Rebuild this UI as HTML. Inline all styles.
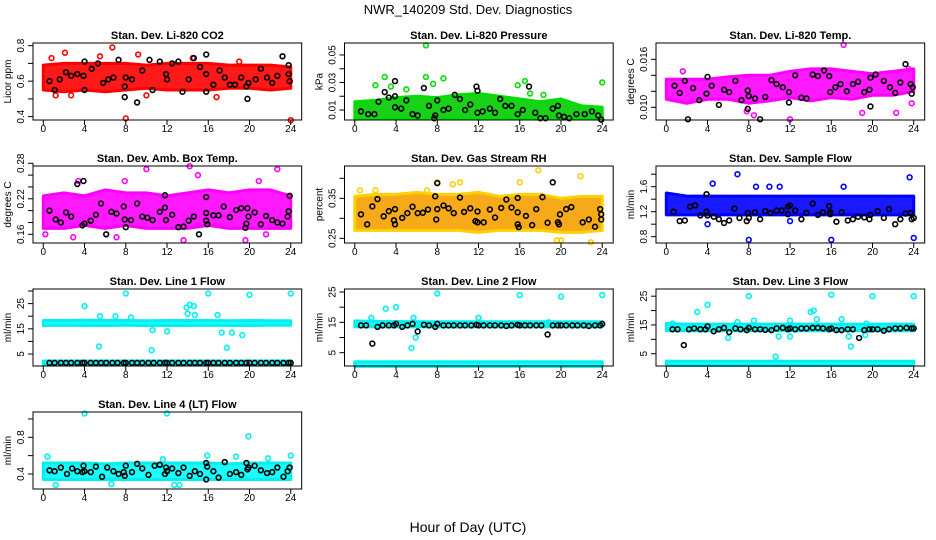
<!DOCTYPE html>
<html><head><meta charset="utf-8">
<style>
html,body{margin:0;padding:0;background:#fff;}
svg{display:block;font-family:"Liberation Sans",sans-serif;}
</style></head>
<body>
<svg id="chart" width="936" height="540" viewBox="0 0 936 540" xmlns="http://www.w3.org/2000/svg">
<text x="468" y="14" text-anchor="middle" font-size="13">NWR_140209  Std. Dev. Diagnostics</text>
<text x="468" y="532" text-anchor="middle" font-size="14">Hour of Day (UTC)</text>
</svg>
<script>
const NS="http://www.w3.org/2000/svg";
const svg=document.getElementById('chart');
const xTicks=[0,4,8,12,16,20,24];
const bandHours=[0,2,4,6,8,10,12,14,16,18,20,22,24];

// ---- Panel 1: CO2
const p1Lo=[0.55,0.54,0.55,0.54,0.55,0.56,0.55,0.55,0.55,0.56,0.56,0.55,0.56];
const p1Hi=[0.69,0.70,0.70,0.70,0.70,0.69,0.70,0.70,0.70,0.69,0.69,0.69,0.68];
const p1Out=[[0.8,0.73],[2.1,0.76],[6.7,0.79],[8,0.39],[9.2,0.75],[14.5,0.73],[24,0.38],[10,0.52],[1.2,0.52],[2.7,0.52],[16.8,0.51],[19,0.71],[5.5,0.74]];
const p1Blk=[[0.6,0.60],[1.1,0.55],[1.6,0.61],[2.2,0.65],[2.7,0.63],[3.3,0.64],[3.9,0.63],[4,0.71],[4,0.55],[4.7,0.67],[5.3,0.70],[5.8,0.59],[6.3,0.61],[6.8,0.62],[7.3,0.72],[7.9,0.57],[7.9,0.51],[8,0.62],[8.6,0.61],[9.1,0.48],[9.6,0.66],[10.3,0.72],[10.6,0.55],[11.3,0.71],[11.9,0.64],[12,0.61],[12.5,0.70],[13.1,0.71],[13.5,0.54],[14.1,0.61],[14.6,0.73],[15.2,0.68],[15.8,0.75],[15.8,0.64],[15.8,0.54],[16.5,0.58],[17.1,0.66],[17.6,0.62],[18.1,0.58],[18.6,0.58],[19.2,0.62],[19.7,0.57],[19.8,0.50],[19.9,0.59],[20.6,0.61],[21.1,0.67],[21.7,0.62],[22.2,0.59],[22.7,0.63],[23.2,0.74],[23.8,0.69],[23.8,0.64],[23.9,0.60]];
// ---- Panel 2: Pressure
const p2Lo=[0.004,0.004,0.004,0.004,0.004,0.004,0.004,0.004,0.004,0.004,0.004,0.004,0.004];
const p2Hi=[0.016,0.017,0.019,0.020,0.019,0.021,0.022,0.020,0.018,0.016,0.018,0.013,0.012];
const p2Out=[[6.9,0.057],[6.9,0.034],[2.9,0.034],[8.6,0.033],[2,0.028],[3.5,0.027],[16.5,0.031],[24,0.030],[7.6,0.029],[15.8,0.028],[5,0.025],[17,0.022],[18.3,0.021]];
const p2Blk=[[0.6,0.009],[1.3,0.007],[1.9,0.007],[2.3,0.016],[2.9,0.023],[3.3,0.019],[3.9,0.031],[3.9,0.020],[3.9,0.012],[4.5,0.011],[5,0.017],[5.6,0.007],[6.1,0.006],[6.7,0.026],[7.2,0.013],[7.7,0.004],[7.8,0.006],[8,0.017],[8.6,0.010],[9.1,0.011],[9.7,0.021],[10.2,0.018],[10.7,0.010],[11.2,0.014],[11.8,0.027],[11.9,0.024],[11.9,0.008],[12.4,0.009],[13.1,0.011],[13.6,0.008],[14.1,0.018],[14.6,0.013],[15.2,0.013],[15.8,0.007],[16.3,0.010],[16.9,0.027],[17.5,0.008],[18,0.004],[18.5,0.004],[19.2,0.011],[19.7,0.013],[19.8,0.006],[20.3,0.005],[20.8,0.004],[21.5,0.007],[22.3,0.007],[23,0.009],[23.6,0.006],[23.9,0.003]];
// ---- Panel 3: Li-820 Temp
const p3Lo=[0.0110,0.0105,0.0110,0.0110,0.0105,0.0108,0.0112,0.0108,0.0112,0.0110,0.0115,0.0115,0.0120];
const p3Hi=[0.0135,0.0135,0.0135,0.0138,0.0140,0.0140,0.0145,0.0148,0.0148,0.0145,0.0142,0.0145,0.0148];
const p3Out=[[1.6,0.0145],[17.2,0.0178],[12,0.0085],[8.5,0.009],[7.8,0.0095],[19,0.0093],[22.3,0.0093],[23.8,0.0105],[23.5,0.0148]];
const p3Blk=[[0.8,0.0127],[1.3,0.0118],[1.8,0.0133],[2.1,0.0085],[2.6,0.0124],[3.2,0.0109],[3.9,0.0117],[4,0.0138],[4.4,0.0127],[5.1,0.0103],[5.6,0.0122],[6.1,0.0119],[6.7,0.0133],[7.3,0.0109],[7.9,0.0098],[7.9,0.0121],[8,0.0114],[8.6,0.0111],[9.1,0.0085],[9.6,0.0113],[10.2,0.0134],[10.7,0.0129],[11.3,0.0125],[11.9,0.0119],[11.9,0.0106],[12.5,0.0140],[13.1,0.0112],[13.6,0.0111],[14.2,0.0141],[14.7,0.0139],[15.3,0.0146],[15.8,0.0139],[15.9,0.0119],[16.4,0.0125],[16.9,0.0129],[17.5,0.0120],[18.1,0.0129],[18.6,0.0132],[19.2,0.0119],[19.7,0.0122],[19.8,0.0101],[19.8,0.0137],[20.3,0.0141],[21.1,0.0133],[21.7,0.0125],[22.2,0.0118],[22.7,0.0131],[23.2,0.0154],[23.7,0.0129],[23.8,0.0117],[23.9,0.0125]];
// ---- Panel 4: Amb Box Temp
const p4Lo=[0.17,0.17,0.175,0.17,0.175,0.17,0.17,0.17,0.175,0.17,0.17,0.17,0.17];
const p4Hi=[0.225,0.23,0.225,0.235,0.23,0.23,0.225,0.23,0.235,0.23,0.235,0.235,0.225];
const p4Out=[[10,0.27],[14.2,0.275],[22.7,0.27],[3.4,0.25],[15,0.26],[0.2,0.16],[2.9,0.155],[7.1,0.155],[13.6,0.15],[19.6,0.15],[21.6,0.16],[20.9,0.25],[7.9,0.25]];
const p4Blk=[[0.6,0.20],[1.2,0.185],[1.7,0.18],[2.2,0.197],[2.7,0.19],[3.3,0.245],[3.8,0.175],[3.9,0.25],[4.0,0.178],[4.6,0.183],[5.1,0.193],[5.6,0.212],[6.1,0.16],[6.6,0.198],[7.1,0.195],[7.8,0.207],[7.9,0.185],[8,0.172],[8.5,0.184],[9.1,0.212],[9.6,0.19],[10.1,0.188],[10.6,0.184],[11.3,0.198],[11.8,0.205],[11.8,0.226],[11.9,0.184],[12.5,0.193],[13.1,0.172],[13.6,0.173],[14.1,0.183],[14.6,0.19],[15.1,0.16],[15.8,0.223],[15.8,0.196],[15.8,0.183],[15.9,0.177],[16.5,0.192],[17,0.192],[17.5,0.207],[18.1,0.189],[18.7,0.201],[19.2,0.204],[19.6,0.171],[19.7,0.178],[19.8,0.204],[19.9,0.19],[20.5,0.197],[21.1,0.177],[21.6,0.191],[22.2,0.184],[22.7,0.18],[23.2,0.178],[23.7,0.19],[23.8,0.199],[23.9,0.225]];
// ---- Panel 5: Gas Stream RH
const p5Lo=[0.27,0.27,0.27,0.27,0.27,0.27,0.265,0.27,0.27,0.27,0.265,0.265,0.27];
const p5Hi=[0.355,0.36,0.36,0.365,0.36,0.36,0.365,0.355,0.36,0.36,0.35,0.355,0.355];
const p5Out=[[17.8,0.42],[21.9,0.405],[8,0.39],[10.2,0.39],[9.5,0.385],[16,0.39],[19.6,0.245],[20,0.245],[22.9,0.24],[0.5,0.37],[2,0.37],[7,0.37]];
const p5Blk=[[0.6,0.31],[1.2,0.285],[1.7,0.33],[2.2,0.348],[2.8,0.305],[3.3,0.318],[3.8,0.295],[3.9,0.285],[3.9,0.323],[4.6,0.301],[5.1,0.313],[5.6,0.329],[6.1,0.313],[6.6,0.314],[7.1,0.322],[7.8,0.355],[7.9,0.297],[8,0.388],[8,0.323],[8.6,0.332],[9.1,0.325],[9.6,0.313],[10.2,0.352],[10.6,0.316],[11.2,0.325],[11.7,0.293],[11.9,0.29],[11.9,0.317],[12.5,0.29],[13.1,0.322],[13.6,0.302],[14.2,0.326],[14.7,0.347],[15.2,0.327],[15.8,0.351],[15.8,0.315],[15.8,0.285],[15.9,0.278],[16.6,0.306],[17.2,0.283],[17.6,0.323],[18.2,0.353],[18.7,0.289],[19.2,0.39],[19.7,0.29],[19.8,0.285],[19.9,0.31],[20.5,0.323],[21,0.328],[22.1,0.29],[22.7,0.297],[23.3,0.279],[23.8,0.323],[23.9,0.297],[23.9,0.31]];
// ---- Panel 6: Sample Flow
const p6Lo=[1.15,1.15,1.15,1.15,1.15,1.15,1.15,1.15,1.15,1.15,1.15,1.15,1.15];
const p6Hi=[1.5,1.45,1.45,1.45,1.45,1.45,1.45,1.45,1.45,1.45,1.45,1.45,1.45];
const p6Out=[[6.9,1.8],[23.6,1.75],[4.5,1.65],[8,0.75],[16,0.75],[24,0.78],[4,1.0],[12,1.05],[8.7,1.6],[10,1.6],[11,1.6],[17.2,1.6]];
const p6Blk=[[0.7,1.2],[1.3,1.05],[1.8,1.06],[2.3,1.28],[2.8,1.3],[3.3,1.14],[3.9,1.48],[3.9,1.2],[4,1.14],[4.6,1.12],[5.1,1.08],[5.6,1.02],[6.1,1.06],[6.6,1.25],[7.1,1.1],[7.8,1.05],[7.9,1.18],[8,1.1],[8.6,1.19],[9.1,1.08],[9.6,1.21],[10.1,1.18],[10.7,1.22],[11.2,1.22],[11.8,1.28],[11.8,1.16],[12,1.3],[12.5,1.22],[13.1,1.08],[13.6,1.18],[14.2,1.33],[14.7,1.15],[15.2,1.19],[15.8,1.29],[15.9,1.16],[15.9,1.19],[16.5,1.04],[17,1.19],[17.6,1.06],[18.1,1.08],[18.6,1.12],[19.2,1.11],[19.7,1.08],[19.8,1.15],[20.5,1.21],[21.1,1.1],[21.6,1.24],[22.2,1.0],[22.7,1.08],[23.2,1.17],[23.7,1.18],[23.8,1.08],[24,1.1]];
// ---- Line flows: black hourly series
const lineBlkH=[0.6,1.1,1.7,2.2,2.7,3.3,3.8,4.0,4.6,5.1,5.6,6.1,6.7,7.2,7.8,8.0,8.6,9.1,9.6,10.2,10.7,11.3,11.8,12.0,12.5,13.1,13.6,14.2,14.7,15.2,15.8,16.0,16.5,17.0,17.6,18.1,18.7,19.2,19.7,20.0,20.5,21.1,21.6,22.2,22.7,23.3,23.8,24.0];
// ---- Panel 7: Line 1
const p7Lo=[16.3,16.4,16.3,16.3,16.4,16.3,16.3,16.3,16.4,16.3,16.3,16.4,16.4];
const p7Hi=[18.3,18.3,18.4,18.3,18.3,18.2,18.3,18.3,18.3,18.2,18.3,18.2,18.2];
const p7Lo2=[0.9,0.9,0.9,0.9,0.9,0.9,0.9,0.9,0.9,0.9,0.9,0.9,0.9];
const p7Hi2=[2.2,2.2,2.2,2.2,2.2,2.2,2.2,2.2,2.2,2.2,2.2,2.2,2.2];
const p7Out=[[8,29],[16,29],[20,28.5],[24,29],[4,24],[13.9,23.5],[14.2,24.5],[14.6,24],[14,21],[14.7,20.5],[5.5,20],[7,20],[8.5,19.5],[16.9,20.5],[5.4,8],[10.5,6.5],[17.8,7.5],[19.3,12.5],[12,14],[17.3,13.5],[18.3,13.5],[10.6,14.5]];
const p7BlkV=[1.5,1.5,1.5,1.5,1.5,1.5,1.5,1.5,1.5,1.5,1.5,1.5,1.5,1.5,1.5,1.5,1.5,1.5,1.5,1.5,1.5,1.5,1.5,1.5,1.5,1.5,1.5,1.5,1.5,1.5,1.5,1.5,1.5,1.5,1.5,1.5,1.5,1.5,1.5,1.5,1.5,1.5,1.5,1.5,1.5,1.5,1.5,1.5];
// ---- Panel 8: Line 2
const p8Lo=[13.5,13.5,13.5,13.5,13.5,13.5,13.5,13.5,13.5,13.5,13.5,13.5,13.5];
const p8Hi=[15.5,15.3,15.3,15.2,15.2,15.2,15.2,15.2,15.2,15.2,15.2,15.2,15.2];
const p8Lo2=[0.5,0.5,0.5,0.5,0.5,0.5,0.5,0.5,0.5,0.5,0.5,0.5,0.5];
const p8Hi2=[2.0,2.0,2.0,2.0,2.0,2.0,2.0,2.0,2.0,2.0,2.0,2.0,2.0];
const p8Out=[[8,24.5],[16,24],[20,23.5],[24,24],[3,19.5],[4,20],[1.6,16.5],[5.7,16.5],[12,16.5],[5.5,6.5],[5.9,10],[18.8,15]];
const p8BlkV=[14,14,8,13.5,14,14,14,14.5,13.5,14,14.5,12,14.2,14,13.5,14.5,14,14,14,14,14,14,14.2,14,14,14,14,14,13.8,14,14.2,14,14,14,14,14,11,14,14,14,14,14,14,14,13.8,14,14,14.5];
// ---- Panel 9: Line 3
const p9Lo=[13.0,13.0,13.0,13.0,13.0,13.0,13.0,13.0,13.0,13.0,13.0,13.0,13.0];
const p9Hi=[15.5,15.3,15.3,15.3,15.3,15.3,15.3,15.3,15.3,15.3,15.3,15.3,15.3];
const p9Lo2=[0.9,0.9,0.9,0.9,0.9,0.9,0.9,0.9,0.9,0.9,0.9,0.9,0.9];
const p9Hi2=[2.4,2.4,2.4,2.4,2.4,2.4,2.4,2.4,2.4,2.4,2.4,2.4,2.4];
const p9Out=[[8,25],[16,25.5],[20,25],[24,25],[4,22],[3,19.5],[14,19.5],[14.3,20],[14.6,17],[17,17],[8.5,16.5],[12,16.5],[6.9,16],[0.6,15.5],[6,10.5],[10.6,4],[10.9,11],[12,11],[17.7,11],[17.9,7.5],[19.3,11.5],[19.4,15.5]];
const p9BlkV=[13.5,13.5,8,13.5,13.8,13.5,13.5,14.5,12.8,13.5,14,12.5,13.8,13.5,13.2,14,13.5,13.5,13.3,13.2,13.8,14,13.5,13.8,13.5,13.8,13.8,14,14,13.8,13.5,13.8,13.2,13.2,13.5,13.5,10.5,13.2,13.5,13.5,13.5,13,13.5,13.8,13.8,14,13.8,13.8];
// ---- Panel 10: Line 4
const p10Lo=[0.34,0.34,0.34,0.34,0.34,0.34,0.34,0.34,0.34,0.34,0.34,0.34,0.34];
const p10Hi=[0.52,0.52,0.52,0.51,0.52,0.52,0.52,0.52,0.52,0.51,0.52,0.52,0.52];
const p10Out=[[4,1.06],[12,1.06],[19.9,0.81],[0.4,0.59],[15.9,0.6],[18.7,0.59],[24,0.6],[1.2,0.28],[6.6,0.29],[12.7,0.28],[13.2,0.28],[11.6,0.56],[21.8,0.57]];
const p10Blk=[[0.6,0.44],[1.1,0.43],[1.7,0.47],[2.3,0.40],[2.8,0.46],[3.3,0.43],[3.8,0.42],[3.9,0.49],[4,0.43],[4.6,0.42],[5.1,0.48],[5.7,0.37],[6.2,0.47],[6.8,0.43],[7.3,0.40],[7.8,0.42],[7.9,0.38],[8,0.49],[8.6,0.42],[9.1,0.51],[9.6,0.46],[10.2,0.39],[10.8,0.49],[11.3,0.50],[11.8,0.40],[11.9,0.47],[12,0.43],[12.5,0.46],[13.1,0.41],[13.6,0.47],[14.2,0.38],[14.7,0.43],[15.2,0.40],[15.8,0.52],[15.8,0.34],[15.9,0.48],[16.5,0.43],[17,0.36],[17.6,0.53],[18.1,0.40],[18.7,0.42],[19.2,0.39],[19.7,0.52],[19.8,0.45],[19.9,0.47],[20.5,0.49],[21.1,0.44],[21.7,0.41],[22.2,0.42],[22.7,0.47],[23.3,0.37],[23.7,0.43],[23.9,0.47]];

function pairs(h,v){return h.map((x,i)=>[x,v[i]]);}

const panels=[
 {key:'co2',title:'Stan. Dev. Li-820 CO2',ylab:'Licor ppm',row:0,col:0,ymin:0.381,ymax:0.815,ticks:[0.4,0.5,0.6,0.7,0.8],labels:['0.4','','0.6','','0.8'],fill:'#ff0000',stroke:'#ff0000',bands:[[p1Lo,p1Hi]],out:p1Out,blk:p1Blk},
 {key:'pressure',title:'Stan. Dev. Li-820 Pressure',ylab:'kPa',row:0,col:1,ymin:0.00273,ymax:0.0587,ticks:[0.01,0.02,0.03,0.04,0.05],labels:['0.01','','0.03','','0.05'],fill:'#00cc00',stroke:'#00dd00',bands:[[p2Lo,p2Hi]],out:p2Out,blk:p2Blk},
 {key:'li820-temp',title:'Stan. Dev. Li-820 Temp.',ylab:'degrees C',row:0,col:2,ymin:0.00841,ymax:0.01804,ticks:[0.010,0.012,0.014,0.016],labels:['0.010','','','0.016'],fill:'#ff00ff',stroke:'#ff00ff',bands:[[p3Lo,p3Hi]],out:p3Out,blk:p3Blk},
 {key:'amb-box-temp',title:'Stan. Dev. Amb. Box Temp.',ylab:'degrees C',row:1,col:0,ymin:0.1453,ymax:0.2754,ticks:[0.16,0.18,0.20,0.22,0.24,0.26,0.28],labels:['0.16','','','0.22','','','0.28'],fill:'#ff00ff',stroke:'#ff00ff',bands:[[p4Lo,p4Hi]],out:p4Out,blk:p4Blk},
 {key:'gas-stream-rh',title:'Stan. Dev. Gas Stream RH',ylab:'percent',row:1,col:1,ymin:0.2383,ymax:0.4308,ticks:[0.25,0.30,0.35,0.40],labels:['0.25','','0.35',''],fill:'#f5a000',stroke:'#ffd000',bands:[[p5Lo,p5Hi]],out:p5Out,blk:p5Blk},
 {key:'sample-flow',title:'Stan. Dev. Sample Flow',ylab:'ml/min',row:1,col:2,ymin:0.699,ymax:1.931,ticks:[0.8,1.0,1.2,1.4,1.6,1.8],labels:['0.8','','1.2','','1.6',''],fill:'#0000ff',stroke:'#0000ff',bands:[[p6Lo,p6Hi]],out:p6Out,blk:p6Blk},
 {key:'line1-flow',title:'Stan. Dev. Line 1 Flow',ylab:'ml/min',row:2,col:0,ymin:0.24,ymax:30.8,ticks:[5,10,15,20,25,30],labels:['5','','15','','25',''],fill:'#00ffff',stroke:'#00f0f0',bands:[[p7Lo,p7Hi],[p7Lo2,p7Hi2]],out:p7Out,blk:pairs(lineBlkH,p7BlkV)},
 {key:'line2-flow',title:'Stan. Dev. Line 2 Flow',ylab:'ml/min',row:2,col:1,ymin:0.61,ymax:26.0,ticks:[5,10,15,20,25],labels:['5','','15','','25'],fill:'#00ffff',stroke:'#00f0f0',bands:[[p8Lo,p8Hi],[p8Lo2,p8Hi2]],out:p8Out,blk:pairs(lineBlkH,p8BlkV)},
 {key:'line3-flow',title:'Stan. Dev. Line 3 Flow',ylab:'ml/min',row:2,col:2,ymin:0.73,ymax:27.5,ticks:[5,10,15,20,25],labels:['5','','15','','25'],fill:'#00ffff',stroke:'#00f0f0',bands:[[p9Lo,p9Hi],[p9Lo2,p9Hi2]],out:p9Out,blk:pairs(lineBlkH,p9BlkV)},
 {key:'line4-flow',title:'Stan. Dev. Line 4 (LT) Flow',ylab:'ml/min',row:3,col:0,ymin:0.236,ymax:1.076,ticks:[0.4,0.6,0.8,1.0],labels:['0.4','','0.8',''],fill:'#00ffff',stroke:'#00f0f0',bands:[[p10Lo,p10Hi]],out:p10Out,blk:p10Blk}
];

function mk(tag,attrs,parent){const e=document.createElementNS(NS,tag);for(const k in attrs)e.setAttribute(k,attrs[k]);(parent||svg).appendChild(e);return e;}

panels.forEach(p=>{
 const ox=p.col*311.5, oy=p.row*123;
 const L=33+ox,R=301.7+ox,T=43+oy,B=120+oy;
 const xs=h=>43.3+ox+h*10.31;
 const ys=v=>B-(v-p.ymin)/(p.ymax-p.ymin)*(B-T);
 const g=mk('g',{});
 
 
 const t=mk('text',{x:(L+R)/2,y:T-4,'text-anchor':'middle','font-size':'11','font-weight':'bold'},g);
 t.textContent=p.title;
 
 
 p.bands.forEach(([lo,hi])=>{
  let d='M'+bandHours.map((h,i)=>xs(h)+','+ys(hi[i])).join('L');
  for(let i=bandHours.length-1;i>=0;i--)d+='L'+xs(bandHours[i])+','+ys(lo[i]);
  const path=mk('path',{d:d+'Z',fill:p.fill,stroke:p.stroke,'stroke-width':'3','stroke-linejoin':'round','fill-opacity':'0.9'},g);
  
  
 });
 p.out.forEach(([h,v])=>{
  const c=mk('circle',{cx:xs(h),cy:ys(v),r:2.4,fill:'none',stroke:p.stroke,'stroke-width':'1.6'},g);
  
  
 });
 p.blk.forEach(([h,v])=>{
  const c=mk('circle',{cx:xs(h),cy:ys(v),r:2.4,fill:'none',stroke:'#000','stroke-width':'1.6'},g);
  
  
 });
 const fr=mk('rect',{x:L,y:T,width:R-L,height:B-T,fill:'none',stroke:'#000','stroke-width':'1'},g);
 
 
 xTicks.forEach(h=>{
  mk('line',{x1:xs(h),x2:xs(h),y1:B,y2:B+5,stroke:'#000'},g);
  const tl=mk('text',{x:xs(h),y:B+12,'text-anchor':'middle','font-size':'10'},g);
  tl.textContent=h;
  
  
 });
 const ya=mk('line',{x1:L,x2:L,y1:ys(p.ticks[0]),y2:ys(p.ticks[p.ticks.length-1]),stroke:'#000'},g);
 
 
 p.ticks.forEach((v,i)=>{
  mk('line',{x1:L-5,x2:L,y1:ys(v),y2:ys(v),stroke:'#000'},g);
  if(p.labels[i]){
   const yl=mk('text',{x:0,y:0,transform:`translate(${L-9},${ys(v)}) rotate(-90)`,'text-anchor':'middle','font-size':'10'},g);
   yl.textContent=p.labels[i];
   
   
  }
 });
 const yt=mk('text',{x:0,y:0,transform:`translate(${ox+11},${(T+B)/2}) rotate(-90)`,'text-anchor':'middle','font-size':'10'},g);
 yt.textContent=p.ylab;
 
 
});
</script>
</body></html>
